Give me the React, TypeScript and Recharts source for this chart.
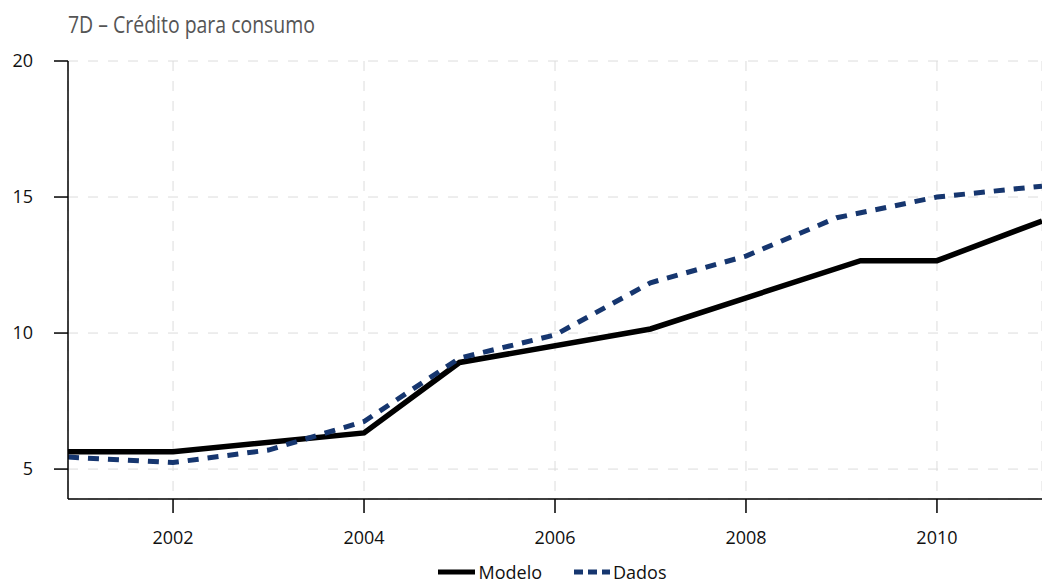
import React from 'react';
import { LineChart, Line, XAxis, YAxis, CartesianGrid, Legend } from 'recharts';

// Modelo (linha preta)
const modeloYears = [2000.9, 2002, 2004, 2005, 2007, 2009.2, 2010, 2011.1];
const modeloValues = [5.64, 5.64, 6.33, 8.92, 10.15, 12.66, 12.66, 14.12];

// Dados (linha azul tracejada)
const dadosYears = [2000.9, 2002, 2003, 2004, 2005, 2006, 2007, 2008, 2008.95, 2010, 2011.1];
const dadosValues = [5.44, 5.24, 5.7, 6.75, 9.08, 9.93, 11.85, 12.83, 14.24, 15.0, 15.4];

const xTicks = [2002, 2004, 2006, 2008, 2010];
const yTicks = [5, 10, 15, 20];

const modelo = modeloYears.map((ano, i) => ({ ano, valor: modeloValues[i] }));
const dados = dadosYears.map((ano, i) => ({ ano, valor: dadosValues[i] }));

const FONT = "'Open Sans', 'Noto Sans', sans-serif";
const BLUE = '#16366f';

const LegendBox = () => (
  <div style={{ display: 'flex', justifyContent: 'center', alignItems: 'center', fontFamily: FONT, fontSize: 18, lineHeight: '20px', color: '#111', paddingLeft: 62 }}>
    <svg width={37} height={8} style={{ marginRight: 4 }}>
      <line x1={0} y1={4} x2={37} y2={4} stroke="#000" strokeWidth={5} />
    </svg>
    <span style={{ marginRight: 32 }}>Modelo</span>
    <svg width={36} height={8} style={{ marginRight: 3 }}>
      <line x1={0} y1={4} x2={36} y2={4} stroke={BLUE} strokeWidth={5} strokeDasharray="9 5" />
    </svg>
    <span>Dados</span>
  </div>
);

export default function App() {
  return (
    <div style={{ position: 'relative', width: 1042, height: 583, background: '#fff', overflow: 'hidden' }}>
      <style>{`body{margin:0}`}</style>
      <svg width={1042} height={45} style={{ position: 'absolute', left: 0, top: 0 }}>
        <text
          x={68}
          y={33}
          textLength={247}
          lengthAdjust="spacingAndGlyphs"
          fontFamily={FONT}
          fontWeight={400}
          fontSize={24}
          fill="#555555"
        >
          7D – Crédito para consumo
        </text>
      </svg>
      <LineChart width={1042} height={583} margin={{ top: 61, right: 0, bottom: 34, left: 0 }}>
        <CartesianGrid stroke="#dcdcdc" strokeDasharray="10 10" strokeWidth={1} />
        <XAxis
          dataKey="ano"
          type="number"
          domain={[2000.9, 2011.1]}
          ticks={xTicks}
          allowDataOverflow
          height={50}
          tickSize={14}
          tickMargin={18}
          stroke="#000"
          strokeWidth={1.5}
          tick={{ fill: '#111', fontSize: 18, fontFamily: FONT }}
        />
        <YAxis
          type="number"
          domain={[3.9, 20]}
          ticks={yTicks}
          allowDataOverflow
          width={68}
          tickSize={14}
          tickMargin={21}
          stroke="#000"
          strokeWidth={1.5}
          tick={{ fill: '#111', fontSize: 18, fontFamily: FONT }}
        />
        <Legend
          layout="horizontal"
          verticalAlign="middle"
          align="center"
          wrapperStyle={{ top: 562, left: 0, width: 1042 }}
          content={() => <LegendBox />}
        />
        <Line
          data={modelo}
          dataKey="valor"
          name="Modelo"
          type="linear"
          stroke="#000"
          strokeWidth={5.5}
          dot={false}
          activeDot={false}
          isAnimationActive={false}
        />
        <Line
          data={dados}
          dataKey="valor"
          name="Dados"
          type="linear"
          stroke={BLUE}
          strokeWidth={5}
          strokeDasharray="11 9"
          dot={false}
          activeDot={false}
          isAnimationActive={false}
        />
      </LineChart>
    </div>
  );
}
